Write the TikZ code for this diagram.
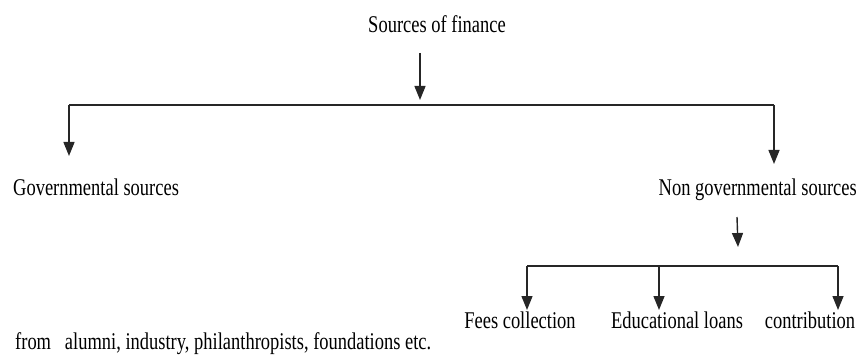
\documentclass[tikz,border=0pt]{standalone}
\usepackage{fontspec}
\setmainfont[FakeStretch=0.77]{Liberation Serif}
\usetikzlibrary{arrows.meta}
\begin{document}
\begin{tikzpicture}[x=1pt,y=-1pt,
  label/.style={inner sep=0pt,font=\fontsize{24}{28}\selectfont},
  link/.style={line width=1.4pt,draw=black!85},
  arr/.style={link,-{Triangle[width=11pt,length=14pt]}}]
  \useasboundingbox (0,0) rectangle (858,358);

  % labels
  \node[label,anchor=base] (root) at (437,33) {Sources of finance};
  \node[label,anchor=base west] (gov) at (13,195) {Governmental sources};
  \node[label,anchor=base east] (ngov) at (857,195) {Non governmental sources};
  \node[label,anchor=base] (fees) at (520,328) {Fees collection};
  \node[label,anchor=base] (loans) at (677,328) {Educational loans};
  \node[label,anchor=base] (contrib) at (810,328) {contribution};
  \node[label,anchor=base west] (note) at (15,349) {from\ \ \ alumni, industry, philanthropists, foundations etc.};

  % first level bracket
  \coordinate (roottop) at (420,53);
  \coordinate (roottip) at (420,100);
  \coordinate (govbar) at (69,105);
  \coordinate (ngovbar) at (774,105);
  \coordinate (govtip) at (69,156);
  \coordinate (ngovtip) at (774,164);
  \draw[arr] (roottop) -- (roottip);
  \draw[link] (govbar) -- (ngovbar);
  \draw[arr] (govbar) -- (govtip);
  \draw[arr] (ngovbar) -- (ngovtip);

  % second level bracket
  \coordinate (ngovtop) at (737,217);
  \coordinate (subtip) at (738,247);
  \coordinate (feesbar) at (527,266);
  \coordinate (loansbar) at (659,266);
  \coordinate (contribbar) at (838,266);
  \coordinate (feestip) at (527,310);
  \coordinate (loanstip) at (659,310);
  \coordinate (contribtip) at (838,310);
  \draw[arr] (ngovtop) -- (subtip);
  \draw[link] (feesbar) -- (contribbar);
  \draw[arr] (feesbar) -- (feestip);
  \draw[arr] (loansbar) -- (loanstip);
  \draw[arr] (contribbar) -- (contribtip);
\end{tikzpicture}
\end{document}
